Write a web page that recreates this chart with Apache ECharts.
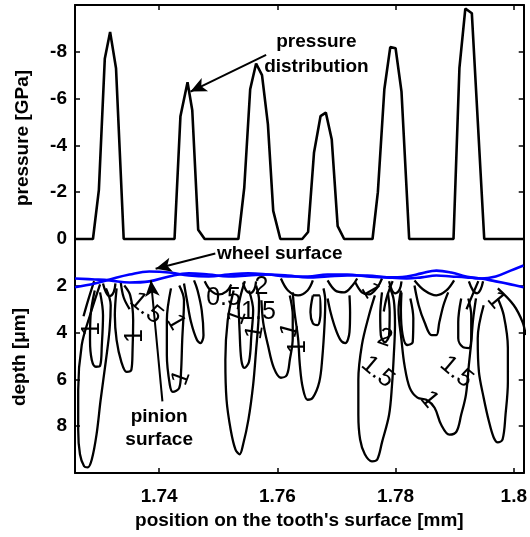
<!DOCTYPE html>
<html>
<head>
<meta charset="utf-8">
<script src="https://cdn.jsdelivr.net/npm/echarts@6/dist/echarts.min.js"></script>
<style>
html, body { margin: 0; padding: 0; background: #fff; }
#chart { width: 530px; height: 537px; }
</style>
</head>
<body>
<div id="chart"></div>
<script>
var FONT = "'Liberation Sans', Arial, sans-serif";

// x range of the flank [mm] and tick positions
var xMin = 1.72576, xMax = 1.80168;
var xTicks = [1.74, 1.76, 1.78, 1.8];

// pressure distribution [GPa] (negative = up in the plot)
var pressure = [
    [1.72576, 0], [1.7288, 0], [1.7298, -2.1], [1.7308, -7.7], [1.7317, -8.85], [1.7327, -7.3], [1.7340, 0],
    [1.7426, 0], [1.7436, -5.25], [1.7448, -6.7], [1.7456, -5.5], [1.7466, -0.4], [1.7477, 0],
    [1.7534, 0], [1.7544, -2.2], [1.7554, -6.4], [1.7564, -7.5], [1.7574, -7.0], [1.7584, -4.9], [1.7593, -1.2], [1.7605, 0],
    [1.7642, 0], [1.7652, -0.3], [1.7662, -3.7], [1.7673, -5.25], [1.7682, -5.4], [1.7692, -4.25], [1.7702, -0.55], [1.7713, 0],
    [1.7761, 0], [1.7770, -2.0], [1.7781, -6.4], [1.7791, -8.2], [1.7800, -8.15], [1.7810, -6.3], [1.7823, 0],
    [1.7898, 0], [1.7908, -7.3], [1.7918, -9.85], [1.7929, -9.65], [1.7950, 0], [1.80168, 0]
];

// surface profiles [um]
var surfX = [1.72576, 1.72911, 1.73163, 1.73498, 1.73833, 1.74168, 1.74503, 1.74838, 1.75173, 1.75508, 1.75843, 1.76178, 1.76513,
    1.76848, 1.77183, 1.77518, 1.77853, 1.78188, 1.78439, 1.7869, 1.78941, 1.79193, 1.79444, 1.79695, 1.79946, 1.80164];
var wheelDepth = [2.06, 1.90, 1.73, 1.52, 1.39, 1.43, 1.56, 1.60, 1.52, 1.47, 1.52, 1.60, 1.60,
    1.52, 1.52, 1.60, 1.64, 1.60, 1.47, 1.35, 1.43, 1.60, 1.69, 1.60, 1.35, 1.13];
var pinionDepth = [1.69, 1.73, 1.77, 1.86, 1.81, 1.60, 1.47, 1.52, 1.60, 1.56, 1.52, 1.56, 1.64,
    1.60, 1.56, 1.56, 1.64, 1.69, 1.64, 1.56, 1.60, 1.64, 1.69, 1.81, 1.94, 2.06];

// stress iso-lines below the surface [x mm, depth um]
var isoLines = [
    [[1.7300,1.94],[1.7283,3.26],[1.7269,4.53],[1.7263,6.45],[1.7263,8.15],[1.7266,9.20],[1.7273,9.71],[1.7279,9.76],[1.7286,9.42],[1.7294,8.36],[1.7301,6.87],[1.7310,5.17],[1.7316,3.90],[1.7318,2.83],[1.7310,2.11]],
    [[1.7291,2.20],[1.7284,3.26],[1.7283,4.32],[1.7286,5.17],[1.7293,5.46],[1.7300,5.42],[1.7303,4.53],[1.7305,3.26],[1.7300,2.28]],
    [[1.7328,2.11],[1.7325,3.26],[1.7328,4.32],[1.7336,5.25],[1.7345,5.68],[1.7353,5.59],[1.7355,4.75],[1.7356,3.47],[1.7351,2.41],[1.7341,1.99]],
    [[1.7420,2.11],[1.7413,3.47],[1.7413,4.96],[1.7418,6.23],[1.7423,6.53],[1.7434,6.36],[1.7437,5.68],[1.7439,4.32],[1.7442,2.62],[1.7434,1.99]],
    [[1.7442,1.90],[1.7447,2.62],[1.7454,3.56],[1.7464,4.32],[1.7470,4.45],[1.7475,4.11],[1.7472,3.05],[1.7465,2.20],[1.7459,1.77]],
    [[1.7526,2.20],[1.7516,3.47],[1.7512,5.17],[1.7514,6.87],[1.7521,8.15],[1.7529,8.99],[1.7536,9.20],[1.7542,8.78],[1.7551,7.72],[1.7559,6.23],[1.7564,4.75],[1.7568,3.47],[1.7569,2.62],[1.7564,1.99]],
    [[1.7534,2.62],[1.7536,3.90],[1.7539,5.17],[1.7544,5.51],[1.7552,5.25],[1.7556,4.11],[1.7559,3.05],[1.7552,2.20]],
    [[1.7573,2.62],[1.7576,3.56],[1.7584,4.53],[1.7594,5.51],[1.7606,5.93],[1.7616,5.81],[1.7621,5.17],[1.7626,4.24],[1.7626,3.26],[1.7621,2.41]],
    [[1.7626,2.28],[1.7629,3.13],[1.7635,4.24],[1.7638,5.38],[1.7643,6.36],[1.7651,6.87],[1.7660,6.78],[1.7671,6.10],[1.7676,5.08],[1.7680,3.56],[1.7681,2.62],[1.7678,2.11]],
    [[1.7660,2.41],[1.7656,3.13],[1.7660,3.60],[1.7668,3.68],[1.7673,3.13],[1.7671,2.41],[1.7660,2.41]],
    [[1.7685,2.54],[1.7690,3.13],[1.7698,3.81],[1.7707,4.32],[1.7715,4.45],[1.7722,3.98],[1.7723,3.13],[1.7722,2.41]],
    [[1.7765,2.41],[1.7755,3.26],[1.7743,4.53],[1.7737,6.02],[1.7737,7.51],[1.7740,8.57],[1.7748,9.20],[1.7760,9.50],[1.7769,9.42],[1.7777,8.69],[1.7789,7.51],[1.7794,6.23],[1.7797,4.96],[1.7799,3.68],[1.7797,2.62],[1.7789,1.99]],
    [[1.7777,2.28],[1.7774,3.26],[1.7775,4.11],[1.7782,4.41],[1.7789,4.11],[1.7790,3.13],[1.7787,2.32]],
    [[1.7809,2.20],[1.7805,3.05],[1.7810,4.32],[1.7815,5.38],[1.7824,6.36],[1.7837,6.78],[1.7852,6.87],[1.7866,7.21],[1.7877,7.93],[1.7891,8.36],[1.7903,8.23],[1.7911,7.51],[1.7919,6.66],[1.7924,5.38],[1.7928,4.41],[1.7931,3.47],[1.7936,2.54]],
    [[1.7810,2.28],[1.7809,3.05],[1.7812,4.11],[1.7820,4.53],[1.7829,4.41],[1.7830,3.39],[1.7825,2.54]],
    [[1.7832,1.99],[1.7839,2.83],[1.7849,3.56],[1.7861,4.11],[1.7869,4.11],[1.7874,3.56],[1.7881,2.83],[1.7889,2.28]],
    [[1.7911,2.54],[1.7906,3.56],[1.7906,4.24],[1.7914,4.62],[1.7924,4.66],[1.7928,4.11],[1.7928,3.26],[1.7923,2.54]],
    [[1.7949,2.83],[1.7939,4.24],[1.7941,5.68],[1.7949,6.78],[1.7958,7.80],[1.7966,8.48],[1.7973,8.69],[1.7981,8.57],[1.7986,7.51],[1.7990,6.10],[1.7990,4.66],[1.7983,3.26],[1.7973,2.54]],
    [[1.7973,2.11],[1.8000,2.83],[1.8015,3.56],[1.8020,4.11]],
    [[1.7477,1.81],[1.7487,2.20],[1.7501,2.37],[1.7514,2.24],[1.7522,1.94]],
    [[1.7606,1.69],[1.7618,2.20],[1.7635,2.41],[1.7651,2.20],[1.7660,1.77]],
    [[1.7685,1.77],[1.7698,2.20],[1.7713,2.28],[1.7727,1.99],[1.7735,1.69]],
    [[1.7732,1.86],[1.7743,2.28],[1.7755,2.37],[1.7769,2.07],[1.7777,1.69]],
    [[1.7832,1.77],[1.7849,2.20],[1.7869,2.41],[1.7886,2.20],[1.7899,1.77]],
    [[1.7305,1.90],[1.7310,2.28],[1.7316,2.45],[1.7323,2.28],[1.7326,1.90]],
    [[1.7542,1.86],[1.7547,2.20],[1.7554,2.32],[1.7561,2.15],[1.7564,1.81]],
    [[1.7789,1.81],[1.7794,2.20],[1.7800,2.32],[1.7807,2.15],[1.7810,1.81]],
    [[1.7924,1.81],[1.7931,2.20],[1.7938,2.32],[1.7944,2.15],[1.7948,1.81]],
    [[1.7290,1.80],[1.7280,2.60],[1.7272,3.30]],
    [[1.7335,1.85],[1.7340,2.50],[1.7350,3.00]],
    [[1.7545,1.80],[1.7538,2.40],[1.7533,3.00]],
    [[1.7795,1.80],[1.7785,2.50],[1.7780,3.10]],
    [[1.7940,1.80],[1.7930,2.40],[1.7920,3.00]]
];

// iso-line values written along the lines
var isoLabels = [
    [1.7286, 3.85, '1'], [1.7360, 4.15, '1'], [1.7378, 2.96, '1.5'], [1.7437, 5.93, '1'], [1.7428, 3.56, '1'],
    [1.7509, 2.54, '0.5'], [1.7573, 2.07, '2'], [1.7568, 3.13, '1.5'], [1.7532, 3.34, '1'], [1.7562, 3.98, '1'],
    [1.7621, 3.90, '1'], [1.7635, 4.62, '1'], [1.7757, 2.20, '1'], [1.7782, 4.24, '2'], [1.7770, 5.68, '1.5'],
    [1.7857, 6.87, '1'], [1.7903, 5.68, '1.5'], [1.7970, 2.62, '1']
];
var isoLabelRot = [90, 90, -40, 70, -60, 0, 0, 0, 70, 80, 75, 90, -60, -20, -40, -50, -40, -50];

// annotations
var arrows = [
    [[1.7581, -7.87], [1.7453, -6.30]],
    [[1.7495, 0.62], [1.7394, 1.27]],
    [[1.74055, 6.94], [1.73861, 1.77]]
];
var notes = [
    [1.7666, -8.42, 'pressure'],
    [1.7666, -7.36, 'distribution'],
    [1.7604, 0.64, 'wheel surface'],
    [1.7400, 7.58, 'pinion'],
    [1.7400, 8.60, 'surface']
];

var chart = echarts.init(document.getElementById('chart'), null, { renderer: 'canvas' });

var series = [];

isoLines.forEach(function (line, i) {
    series.push({
        name: 'iso' + i,
        type: 'line',
        data: line,
        symbol: 'none',
        smooth: 0.35,
        clip: true,
        z: 2,
        lineStyle: { color: '#000', width: 2.3 }
    });
});

series.push({
    name: 'pressure',
    type: 'line',
    data: pressure,
    symbol: 'none',
    z: 3,
    lineStyle: { color: '#000', width: 2.6 }
});

series.push({
    name: 'wheel',
    type: 'line',
    data: surfX.map(function (x, i) { return [x, wheelDepth[i]]; }),
    symbol: 'none',
    smooth: 0.4,
    z: 4,
    lineStyle: { color: '#0000ff', width: 2.6 }
});
series.push({
    name: 'pinion',
    type: 'line',
    data: surfX.map(function (x, i) { return [x, pinionDepth[i]]; }),
    symbol: 'none',
    smooth: 0.4,
    z: 4,
    lineStyle: { color: '#0000ff', width: 2.6 }
});

series.push({
    name: 'isoLabels',
    type: 'scatter',
    symbolSize: 0,
    z: 5,
    itemStyle: { opacity: 1 },
    data: isoLabels.map(function (d, i) {
        return {
            value: [d[0], d[1]],
            label: { rotate: isoLabelRot[i], formatter: d[2] }
        };
    }),
    label: {
        show: true,
        position: 'inside',
        color: '#000',
        textBorderWidth: 0,
        fontFamily: FONT,
        fontSize: 25
    }
});

series.push({
    name: 'notes',
    type: 'scatter',
    symbolSize: 0,
    z: 6,
    itemStyle: { opacity: 1 },
    data: notes.map(function (d) {
        return { value: [d[0], d[1]], label: { formatter: d[2] } };
    }),
    label: {
        show: true,
        position: 'inside',
        color: '#000',
        textBorderWidth: 0,
        fontFamily: FONT,
        fontWeight: 'bold',
        fontSize: 19
    },
    markLine: {
        silent: true,
        symbol: ['none', 'arrow'],
        symbolSize: [11, 16],
        label: { show: false },
        lineStyle: { color: '#000', width: 2, type: 'solid', opacity: 1 },
        data: arrows.map(function (a) {
            return [{ coord: a[0] }, { coord: a[1] }];
        })
    }
});

var option = {
    animation: false,
    backgroundColor: '#fff',
    textStyle: { fontFamily: FONT },
    grid: { left: 75, right: 2, top: 5, bottom: 64 },
    xAxis: [{
        type: 'value',
        min: xMin,
        max: xMax,
        position: 'bottom',
        name: "position on the tooth's surface [mm]",
        nameLocation: 'middle',
        nameGap: 34,
        nameTextStyle: { color: '#000', fontWeight: 'bold', fontSize: 19, fontFamily: FONT },
        axisLine: { onZero: false, lineStyle: { color: '#000', width: 2 } },
        axisTick: { inside: true, length: 5, customValues: xTicks, lineStyle: { color: '#000', width: 1.5 } },
        axisLabel: { customValues: xTicks, color: '#000', fontWeight: 'bold', fontSize: 19, margin: 14, fontFamily: FONT },
        splitLine: { show: false }
    }, {
        type: 'value',
        min: xMin,
        max: xMax,
        position: 'top',
        axisLine: { onZero: false, lineStyle: { color: '#000', width: 2 } },
        axisTick: { inside: true, length: 5, customValues: xTicks, lineStyle: { color: '#000', width: 1.5 } },
        axisLabel: { show: false },
        splitLine: { show: false }
    }],
    yAxis: [{
        type: 'value',
        inverse: true,
        min: -10,
        max: 10,
        interval: 2,
        position: 'left',
        axisLine: { onZero: false, lineStyle: { color: '#000', width: 2 } },
        axisTick: { inside: true, length: 5, lineStyle: { color: '#000', width: 1.5 } },
        axisLabel: {
            color: '#000', fontWeight: 'bold', fontSize: 19, margin: 8, fontFamily: FONT,
            formatter: function (v) { return Math.abs(v) === 10 ? '' : String(v); }
        },
        splitLine: { show: false }
    }, {
        type: 'value',
        inverse: true,
        min: -10,
        max: 10,
        interval: 2,
        position: 'right',
        axisLine: { onZero: false, lineStyle: { color: '#000', width: 2 } },
        axisTick: { inside: true, length: 5, lineStyle: { color: '#000', width: 1.5 } },
        axisLabel: { show: false },
        splitLine: { show: false }
    }],
    graphic: [{
        type: 'text',
        x: 23,
        y: 138,
        rotation: Math.PI / 2,
        style: {
            text: 'pressure [GPa]',
            font: 'bold 19px ' + FONT,
            fill: '#000',
            align: 'center',
            verticalAlign: 'middle',
            textAlign: 'center',
            textVerticalAlign: 'middle'
        }
    }, {
        type: 'text',
        x: 20,
        y: 357,
        rotation: Math.PI / 2,
        style: {
            text: 'depth [\u03bcm]',
            font: 'bold 19px ' + FONT,
            fill: '#000',
            align: 'center',
            verticalAlign: 'middle',
            textAlign: 'center',
            textVerticalAlign: 'middle'
        }
    }],
    series: series
};

chart.setOption(option);
</script>
</body>
</html>
